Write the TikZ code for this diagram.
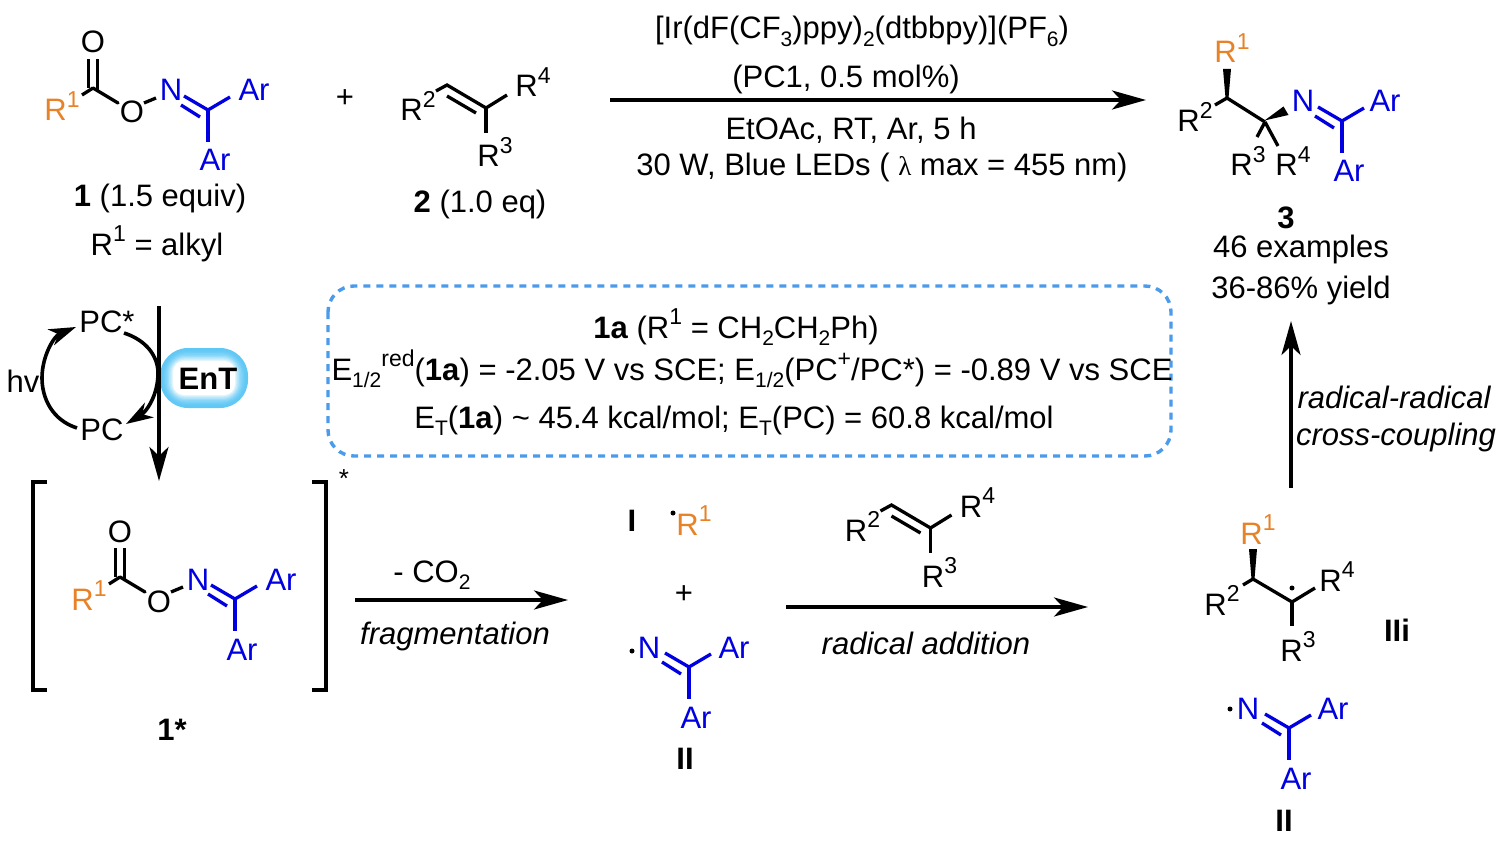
\documentclass[tikz,border=0pt]{standalone}
\usepackage{fontspec}
\setmainfont{Liberation Sans}
\usetikzlibrary{arrows.meta,calc}
\definecolor{ablue}{RGB}{0,0,225}
\definecolor{aorange}{RGB}{232,130,40}
\definecolor{dashblue}{RGB}{75,155,235}
\definecolor{entblue}{RGB}{96,200,245}
\newcommand\up[1]{\raisebox{0.44em}{\fontsize{23}{23}\selectfont #1}}
\newcommand\dn[1]{\raisebox{-0.24em}{\fontsize{21}{21}\selectfont #1}}
\tikzset{
  x=1pt,y=-1pt,
  lab/.style={inner sep=0pt,outer sep=0pt,text height=22pt,text depth=0pt,font=\fontsize{31}{36}\selectfont},
  txt/.style={lab},
  btxt/.style={lab,font=\fontsize{31}{36}\selectfont\bfseries},
  itxt/.style={lab,font=\fontsize{31}{36}\selectfont\itshape},
  bl/.style={lab,text=ablue},
  og/.style={lab,text=aorange},
  bond/.style={line width=3.3pt,line cap=butt},
  bbond/.style={bond,draw=ablue},
  arr/.style={line width=3.6pt,-{Stealth[length=34pt,width=19pt,inset=9pt]}},
  carr/.style={line width=3.6pt,-{Stealth[length=27pt,width=17pt,inset=8pt]}},
  rdot/.style={circle,fill=black,inner sep=0pt,minimum size=5pt},
}
% imine fragment around C at (#2,#3); #4 = x of N, #5 = x of Ar, both relative to C
\newcommand\imine[5]{%
  \begin{scope}[shift={(#2,#3)}]
    \coordinate (#1c) at (0,0);
    \coordinate (#1a) at (-24,-14);
    \coordinate (#1b) at (-27,-5);
    \coordinate (#1d) at (-8,7);
    \coordinate (#1e) at (22,-13);
    \coordinate (#1f) at (0,32);
    \node[bl] (#1n) at (#4,-20) {N};
    \node[bl] (#1ar) at (#5,-20) {Ar};
    \node[bl] (#1arr) at (7,50) {Ar};
    \draw[bbond] (#1a) -- ([xshift=0.8pt,yshift=-0.5pt]#1c);
    \draw[bbond] (#1b) -- (#1d);
    \draw[bbond] (#1c) -- (#1e);
    \draw[bbond] ([yshift=-1.4pt]#1c) -- (#1f);
  \end{scope}}
% oxime ester with C=N carbon at (#2,#3)
\newcommand\ester[3]{%
  \imine{#1}{#2}{#3}{-37}{46}
  \begin{scope}[shift={(#2,#3)}]
    \coordinate (#1k) at (-115,-22);
    \coordinate (#1s) at (-126,-15);
    \coordinate (#1w) at (-90,-7);
    \coordinate (#1x) at (-64,-7);
    \coordinate (#1y) at (-52,-12);
    \node[lab] (#1o) at (-76,2) {O};
    \node[lab] (#1od) at (-115,-68) {O};
    \node[og] (#1r) at (-146,0) {R\up{1}};
    \draw[bond] (#1s) -- (#1k);
    \draw[bond,line cap=round] (#1k) -- (#1w);
    \draw[bond] ($(#1k)+(-4.5,0)$) -- ($(#1od.south)+(-4.5,6)$);
    \draw[bond] ($(#1k)+(4.5,2)$) -- ($(#1od.south)+(4.5,6)$);
    \draw[bond] (#1x) -- (#1y);
  \end{scope}}
% alkene, C at (#2,#3)
\newcommand\alkene[3]{%
  \begin{scope}[shift={(#2,#3)}]
    \coordinate (#1c) at (0,0);
    \coordinate (#1s) at (-50,-17);
    \coordinate (#1t) at (-39,-23);
    \coordinate (#1u) at (-39,-12);
    \coordinate (#1v) at (-10,5);
    \coordinate (#1w) at (21,-13);
    \coordinate (#1z) at (0,25);
    \node[lab] (#1r) at (-68,2) {R\up{2}};
    \node[lab] (#1rf) at (47,-22) {R\up{4}};
    \node[lab] (#1rt) at (9,48) {R\up{3}};
    \draw[bond] (#1s) -- (#1t) -- (#1c) -- (#1w);
    \draw[bond] (#1u) -- (#1v);
    \draw[bond] ([yshift=-1.4pt]#1c) -- (#1z);
  \end{scope}}
\begin{document}
\begin{tikzpicture}
\useasboundingbox (0,0) rectangle (1507,853);
\fill[white] (0,0) rectangle (1507,853);

% reactants
\ester{a}{208}{110}
\node[txt] (n1) at (160,196) {\textbf{1} (1.5 equiv)};
\node[txt] (r1) at (157,244) {R\up{1} = alkyl};
\node[txt] (plus) at (345,97) {+};
\alkene{b}{486}{108}
\node[txt] (n2) at (480,202) {\textbf{2} (1.0 eq)};

% conditions
\coordinate (t1) at (610,100);
\coordinate (t2) at (1146,100);
\draw[arr] (t1) -- (t2);
\node[txt] (c1) at (862,28) {[Ir(dF(CF\dn{3})ppy)\dn{2}(dtbbpy)](PF\dn{6})};
\node[txt] (c2) at (846,77) {(PC1, 0.5 mol\%)};
\node[txt] (c3) at (851,129) {EtOAc, RT, Ar, 5 h};
\node[txt] (c4) at (882,165) {30 W, Blue LEDs ( {\fontspec{Liberation Serif}\fontsize{27}{27}\selectfont λ} max = 455 nm)};

% product 3
\imine{p}{1342}{121}{-39}{43}
\coordinate (p0) at (1215,105);
\coordinate (p1) at (1227,98);
\coordinate (p2) at (1265,122);
\coordinate (p3) at (1257,137);
\coordinate (p4) at (1278,146);
\node[og] (pr1) at (1232,52) {R\up{1}};
\node[lab] (pr2) at (1195,121) {R\up{2}};
\node[lab] (pr3) at (1248,165) {R\up{3}};
\node[lab] (pr4) at (1293,165) {R\up{4}};
\fill (p1) ++(-1.5,0) -- ++(-2.5,-29) -- ++(8,0) -- ++(-2.5,29) -- cycle;
\fill (p2) ++(-0.5,-1.5) -- ++(19,-14) -- ++(5,8.5) -- cycle;
\draw[bond] (p0) -- (p1) -- (p2);
\draw[bond] (p2) -- (p3);
\draw[bond] (p2) -- (p4);
\node[btxt] (n3) at (1286,218) {3};
\node[txt] (ex) at (1301,247) {46 examples};
\node[txt] (yl) at (1301,287) {36-86\% yield};

% info box
\draw[dashblue,line width=3.4pt,dash pattern=on 7pt off 6pt,rounded corners=26pt] (328,286) rectangle (1171,456);
\node[txt] (i1) at (736,327) {\textbf{1a} (R\up{1} = CH\dn{2}CH\dn{2}Ph)};
\node[txt] (i2) at (752,369) {E\dn{1/2}\up{red}(\textbf{1a}) = -2.05 V vs SCE; E\dn{1/2}(PC\up{+}/PC*) = -0.89 V vs SCE};
\node[txt] (i3) at (734,417) {E\dn{T}(\textbf{1a}) \textasciitilde{} 45.4 kcal/mol; E\dn{T}(PC) = 60.8 kcal/mol};

% photocatalysis
\foreach \i in {0,...,14}{
  \pgfmathsetmacro{\m}{max(100-\i*\i*1.0,0)}
  \pgfmathsetmacro{\rr}{max(28-\i*1.7,2)}
  \fill[entblue!\m!white,rounded corners=\rr pt] (160+\i*1.3,348+\i*1.3) rectangle (248-\i*1.3,408-\i*1.3);
}
\node[btxt] (ent) at (208,378) {EnT};
\node[lab] (pcs) at (107,321) {PC*};
\node[lab] (pc) at (102,429) {PC};
\node[lab] (hv) at (23,381) {hv};
\coordinate (v1) at (159,306);
\coordinate (v2) at (159,481);
\draw[arr] (v1) -- (v2);
\coordinate (la) at (77,428);
\coordinate (lb) at (42,378);
\coordinate (lc) at (76,327);
\draw[carr] (la) .. controls (52,420) and (42,398) .. (lb) .. controls (42,356) and (54,336) .. (lc);
\coordinate (ra) at (124,333);
\coordinate (rb) at (158,373);
\coordinate (rc) at (126,424);
\draw[carr] (ra) .. controls (146,340) and (158,356) .. (rb) .. controls (158,396) and (146,412) .. (rc);

% excited state
\draw[line width=3.5pt] (47,482) -- (33,482) -- (33,690) -- (47,690);
\draw[line width=3.5pt] (312,482) -- (326,482) -- (326,690) -- (312,690);
\node[lab] (st) at (344,476) {\fontsize{26}{26}\selectfont *};
\ester{e}{235}{599}
\node[btxt] (n1s) at (172,729) {1*};

% fragmentation
\coordinate (f1) at (355,600);
\coordinate (f2) at (568,600);
\draw[arr] (f1) -- (f2);
\node[txt] (co) at (432,571) {- CO\dn{2}};
\node[itxt] (fr) at (455,633) {fragmentation};

\node[btxt] (nI) at (632,520) {I};
\node[rdot] (d1) at (673,513) {};
\node[og] (ir1) at (694,524) {R\up{1}};
\node[txt] (pl2) at (684,592) {+};
\imine{f}{689}{667}{-40}{45}
\node[rdot] (d2) at (632,651) {};
\node[btxt] (nII) at (685,758) {II};

% radical addition
\alkene{g}{930.5}{528}
\coordinate (g1) at (786,607);
\coordinate (g2) at (1088,607);
\draw[arr] (g1) -- (g2);
\node[itxt] (ra2) at (926,643) {radical addition};

% radical IIi
\coordinate (q0) at (1243,585);
\coordinate (q1) at (1253,579);
\coordinate (q2) at (1292,602);
\coordinate (q3) at (1315,588);
\coordinate (q4) at (1292,626);
\node[og] (qr1) at (1258,533) {R\up{1}};
\node[lab] (qr2) at (1222,604) {R\up{2}};
\node[lab] (qr4) at (1337,580) {R\up{4}};
\node[lab] (qr3) at (1298,650) {R\up{3}};
\fill (q1) ++(-1.5,0) -- ++(-2.5,-30) -- ++(8,0) -- ++(-2.5,30) -- cycle;
\draw[bond] (q0) -- (q1) -- (q2) -- (q3);
\draw[bond] ([yshift=-1.4pt]q2) -- (q4);
\node[rdot] (d3) at (1292,588) {};
\node[btxt] (nIIi) at (1397,630) {IIi};

% lower II
\imine{h}{1289}{728}{-41}{44}
\node[rdot] (d4) at (1230,709) {};
\node[btxt] (nII2) at (1284,820) {II};

% coupling arrow
\coordinate (u1) at (1291,488);
\coordinate (u2) at (1291,321);
\draw[arr] (u1) -- (u2);
\node[itxt] (cc1) at (1394,397) {radical-radical};
\node[itxt] (cc2) at (1396,434) {cross-coupling};
\end{tikzpicture}
\end{document}
